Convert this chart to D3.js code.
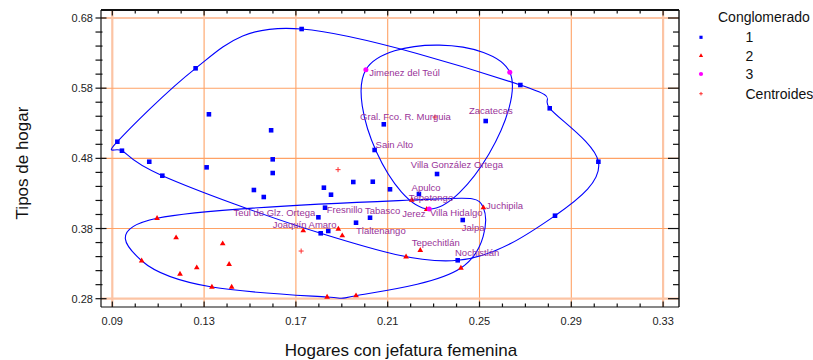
<!DOCTYPE html>
<html>
<head>
<meta charset="utf-8">
<script src="https://cdn.jsdelivr.net/npm/d3@7"></script>
<style>
  body { margin: 0; background: #fff; }
  svg { display: block; font-family: "Liberation Sans", Arial, sans-serif; }
</style>
</head>
<body>
<svg id="chart" width="813" height="360"></svg>
<script>
// Municipios agrupados en conglomerados: [hogares con jefatura femenina, tipos de hogar]
const conglomerado1 = [
  [0.0922, 0.5037], [0.0942, 0.4909], [0.1263, 0.6083], [0.1321, 0.5428], [0.1592, 0.5200],
  [0.1599, 0.4786], [0.1725, 0.6643], [0.1061, 0.4752], [0.1118, 0.4553], [0.1311, 0.4672],
  [0.1599, 0.4591], [0.1517, 0.4349], [0.1560, 0.4249], [0.1822, 0.4382], [0.1853, 0.4282],
  [0.1950, 0.4463], [0.2035, 0.4467], [0.2110, 0.4359], [0.1827, 0.4097], [0.1798, 0.3960],
  [0.1962, 0.3883], [0.2023, 0.3954], [0.1808, 0.3732], [0.1841, 0.3765], [0.2236, 0.4292],
  [0.2315, 0.4577], [0.2427, 0.3921], [0.2405, 0.3347], [0.2043, 0.4919], [0.2083, 0.5285],
  [0.2527, 0.5332], [0.2678, 0.5845], [0.2806, 0.5513], [0.3018, 0.4752], [0.2829, 0.3983]
];
const nombres1 = [
  "", "", "", "", "", "", "", "", "", "",
  "", "", "", "", "", "", "", "", "Fresnillo", "Teúl de Glz. Ortega",
  "Tlaltenango", "Tabasco", "", "", "Apulco", "Villa González Ortega", "Jalpa", "Nochistlán",
  "Sain Alto", "Gral. Fco. R. Murguia", "Zacatecas", "", "", "", ""
];

const conglomerado2 = [
  [0.1095, 0.3946], [0.1178, 0.3669], [0.1028, 0.3341], [0.1195, 0.3152], [0.1268, 0.3242],
  [0.1334, 0.2966], [0.1420, 0.2966], [0.1381, 0.3584], [0.1409, 0.3290], [0.1732, 0.3769],
  [0.1885, 0.3793], [0.1902, 0.3698], [0.2205, 0.4206], [0.2270, 0.4074], [0.2517, 0.4097],
  [0.2180, 0.3398], [0.2242, 0.3490], [0.2419, 0.3237], [0.1836, 0.2824], [0.1962, 0.2843]
];
const nombres2 = [
  "", "", "", "", "", "", "", "", "", "Joaquín Amaro",
  "", "", "Tepetongo", "Jerez", "Juchipila", "", "Tepechitlán", "", "", ""
];

const conglomerado3 = [
  [0.2005, 0.6063], [0.2632, 0.6026], [0.2281, 0.4078]
];
const nombres3 = ["Jimenez del Teúl", "", "Villa Hidalgo"];

// Ejes
const xMayores = [0.09, 0.13, 0.17, 0.21, 0.25, 0.29, 0.33];
const xEtiquetas = ["0.09", "0.13", "0.17", "0.21", "0.25", "0.29", "0.33"];
const yMayores = [0.28, 0.38, 0.48, 0.58, 0.68];
const yEtiquetas = ["0.28", "0.38", "0.48", "0.58", "0.68"];
const xMenores = d3.range(9, 34).map(v => v / 100);
const yMenores = d3.range(14, 35).map(v => v * 2 / 100);

const leyendaTitulo = "Conglomerado";
const leyendaItems = ["1", "2", "3", "Centroides"];
const tituloX = "Hogares con jefatura femenina";
const tituloY = "Tipos de hogar";

// ---- drawing ----
const svg = d3.select("#chart");
const frame = { left: 101, right: 679, top: 10, bottom: 307 };
const x = d3.scaleLinear().domain([0.09, 0.33]).range([112.3, 663.1]);
const y = d3.scaleLinear().domain([0.28, 0.68]).range([298.7, 18]);

const AZUL = "#0000ff", ROJO = "#ff0000", MAGENTA = "#ff00ff", ETQ = "#993399";
const GRID = "#ffa266", GRID_BORDE = "#fcc4a4";

svg.append("defs").append("clipPath").attr("id", "area")
  .append("rect").attr("x", frame.left).attr("y", frame.top)
  .attr("width", frame.right - frame.left).attr("height", frame.bottom - frame.top);

// grid
const grid = svg.append("g");
xMayores.forEach((v, i) => {
  const edge = i === 0 || i === xMayores.length - 1;
  grid.append("line").attr("x1", x(v)).attr("x2", x(v))
    .attr("y1", frame.top).attr("y2", frame.bottom)
    .attr("stroke", edge ? GRID_BORDE : GRID).attr("stroke-width", edge ? 2.2 : 1.1);
});
yMayores.forEach((v, i) => {
  const edge = i === 0 || i === yMayores.length - 1;
  grid.append("line").attr("y1", y(v)).attr("y2", y(v))
    .attr("x1", frame.left).attr("x2", frame.right)
    .attr("stroke", edge ? GRID_BORDE : GRID).attr("stroke-width", edge ? 2.2 : 1.1);
});

// contours: closed smooth curve through the convex hull of each cluster.
// Tangents mix a periodic cubic spline with Catmull-Rom tangents.
function contorno(P) {
  const n = P.length;
  const D = P.map(() => [0, 0]);
  for (let it = 0; it < 300; it++) {
    for (let i = 0; i < n; i++) {
      const a = D[(i + n - 1) % n], b = D[(i + 1) % n];
      const p = P[(i + 1) % n], q = P[(i + n - 1) % n];
      D[i] = [(3 * (p[0] - q[0]) - a[0] - b[0]) / 4, (3 * (p[1] - q[1]) - a[1] - b[1]) / 4];
    }
  }
  const T = P.map((_, i) => {
    const p = P[(i + 1) % n], q = P[(i + n - 1) % n];
    return [0.5 * D[i][0] + 0.25 * (p[0] - q[0]), 0.5 * D[i][1] + 0.25 * (p[1] - q[1])];
  });
  const path = d3.path();
  path.moveTo(P[0][0], P[0][1]);
  for (let i = 0; i < n; i++) {
    const j = (i + 1) % n;
    path.bezierCurveTo(P[i][0] + T[i][0] / 3, P[i][1] + T[i][1] / 3,
                       P[j][0] - T[j][0] / 3, P[j][1] - T[j][1] / 3,
                       P[j][0], P[j][1]);
  }
  path.closePath();
  return path.toString();
}
const gC = svg.append("g").attr("clip-path", "url(#area)");
[conglomerado1, conglomerado2, conglomerado3].forEach(pts => {
  const hull = d3.polygonHull(pts.map(p => [x(p[0]), y(p[1])]));
  gC.append("path").attr("d", contorno(hull))
    .attr("fill", "none").attr("stroke", AZUL).attr("stroke-width", 1.1);
});

// frame and ticks
const ax = svg.append("g").attr("stroke", "#111");
ax.append("line").attr("x1", frame.left).attr("x2", frame.right).attr("y1", frame.top).attr("y2", frame.top).attr("stroke-width", 2);
ax.append("line").attr("x1", frame.right).attr("x2", frame.right).attr("y1", frame.top).attr("y2", frame.bottom).attr("stroke-width", 1.4);
ax.append("line").attr("x1", frame.left).attr("x2", frame.left).attr("y1", frame.top).attr("y2", frame.bottom).attr("stroke-width", 1.2);
ax.append("line").attr("x1", frame.left).attr("x2", frame.right).attr("y1", frame.bottom).attr("y2", frame.bottom).attr("stroke-width", 1.2);

const isMajor = (v, arr) => arr.some(m => Math.abs(m - v) < 1e-9);
xMenores.forEach(v => {
  const maj = isMajor(v, xMayores);
  ax.append("line").attr("x1", x(v)).attr("x2", x(v)).attr("y1", frame.top).attr("y2", frame.top + (maj ? 5.5 : 3.5)).attr("stroke-width", 1.2);
  ax.append("line").attr("x1", x(v)).attr("x2", x(v)).attr("y1", frame.bottom).attr("y2", frame.bottom - (maj ? 5.5 : 3.5)).attr("stroke-width", 1.2);
});
yMenores.forEach(v => {
  const maj = isMajor(v, yMayores);
  ax.append("line").attr("y1", y(v)).attr("y2", y(v)).attr("x1", frame.left - 5.5).attr("x2", frame.left + (maj ? 5.5 : 1.5)).attr("stroke-width", 1.2);
  ax.append("line").attr("y1", y(v)).attr("y2", y(v)).attr("x1", frame.right).attr("x2", frame.right - (maj ? 11 : 6)).attr("stroke-width", 1.2);
});

// tick labels
const tl = svg.append("g").attr("font-size", 11).attr("fill", "#222");
xMayores.forEach((v, i) => tl.append("text").attr("x", x(v)).attr("y", 325)
  .attr("text-anchor", "middle").text(xEtiquetas[i]));
yMayores.forEach((v, i) => tl.append("text").attr("x", 93).attr("y", y(v) + 4)
  .attr("text-anchor", "end").text(yEtiquetas[i]));

// axis titles
svg.append("text").attr("x", 401).attr("y", 356).attr("text-anchor", "middle")
  .attr("font-size", 17).attr("fill", "#111").text(tituloX);
svg.append("text").attr("transform", "translate(28,163) rotate(-90)").attr("text-anchor", "middle")
  .attr("font-size", 17).attr("fill", "#111").text(tituloY);

// markers
const cuadro = d3.symbol().type(d3.symbolSquare).size(21);
const triangulo = d3.symbol().type(d3.symbolTriangle).size(14);
const circulo = d3.symbol().type(d3.symbolCircle).size(20);
const cruz = [[-2.5, 0, 2.5, 0], [0, -2.5, 0, 2.5]];

const pts = svg.append("g");
conglomerado1.forEach(p => pts.append("path").attr("d", cuadro)
  .attr("transform", `translate(${x(p[0])},${y(p[1])})`).attr("fill", AZUL));
conglomerado2.forEach(p => pts.append("path").attr("d", triangulo)
  .attr("transform", `translate(${x(p[0])},${y(p[1])})`).attr("fill", ROJO));
conglomerado3.forEach(p => pts.append("path").attr("d", circulo)
  .attr("transform", `translate(${x(p[0])},${y(p[1])})`).attr("fill", MAGENTA));

// centroids of each cluster
[conglomerado1, conglomerado2, conglomerado3].forEach(g => {
  const cx = x(d3.mean(g, p => p[0])), cy = y(d3.mean(g, p => p[1]));
  cruz.forEach(s => pts.append("line").attr("x1", cx + s[0]).attr("y1", cy + s[1])
    .attr("x2", cx + s[2]).attr("y2", cy + s[3]).attr("stroke", "#ff3030").attr("stroke-width", 1));
});

// municipality labels (offset from each point, in px)
const desplazamiento = {
  "Fresnillo": [1.7, 5], "Teúl de Glz. Ortega": [-85, -0.8], "Tlaltenango": [0, 10.8],
  "Tabasco": [-5, -3.5], "Apulco": [-7.3, -3.2], "Villa González Ortega": [-26.3, -5.8],
  "Jalpa": [-1, 11.2], "Nochistlán": [-2.7, -4.1], "Sain Alto": [1, -1.8],
  "Gral. Fco. R. Murguia": [-23.7, -4.8], "Zacatecas": [-16.7, -7.5],
  "Joaquín Amaro": [-30.6, -3.0], "Tepetongo": [-3, 0.8], "Jerez": [-24.4, 7.5],
  "Juchipila": [2.7, 1.1], "Tepechitlán": [-8.6, -4.1],
  "Jimenez del Teúl": [3.3, 6.5], "Villa Hidalgo": [0.7, 7.2]
};
const lab = svg.append("g").attr("font-size", 9.5).attr("fill", ETQ);
[[conglomerado1, nombres1], [conglomerado2, nombres2], [conglomerado3, nombres3]].forEach(([g, n]) => {
  g.forEach((p, i) => {
    if (!n[i]) return;
    const d = desplazamiento[n[i]];
    lab.append("text").attr("x", x(p[0]) + d[0]).attr("y", y(p[1]) + d[1]).text(n[i]);
  });
});

// legend
const leg = svg.append("g").attr("font-size", 14).attr("fill", "#111");
leg.append("text").attr("x", 718).attr("y", 21.5).text(leyendaTitulo);
const legY = [37.3, 55.7, 74, 93.7];
const legSym = [
  d3.symbol().type(d3.symbolSquare).size(10),
  d3.symbol().type(d3.symbolTriangle).size(8),
  d3.symbol().type(d3.symbolCircle).size(14)
];
const legCol = [AZUL, ROJO, MAGENTA];
leyendaItems.forEach((t, i) => {
  leg.append("text").attr("x", 745.5).attr("y", legY[i] + 5).text(t);
  if (i < 3) {
    leg.append("path").attr("d", legSym[i]).attr("transform", `translate(701,${legY[i]})`).attr("fill", legCol[i]);
  } else {
    cruz.forEach(s => leg.append("line").attr("x1", 701 + s[0] * 0.7).attr("y1", legY[i] + s[1] * 0.7)
      .attr("x2", 701 + s[2] * 0.7).attr("y2", legY[i] + s[3] * 0.7).attr("stroke", "#ff3030").attr("stroke-width", 1));
  }
});
</script>
</body>
</html>
